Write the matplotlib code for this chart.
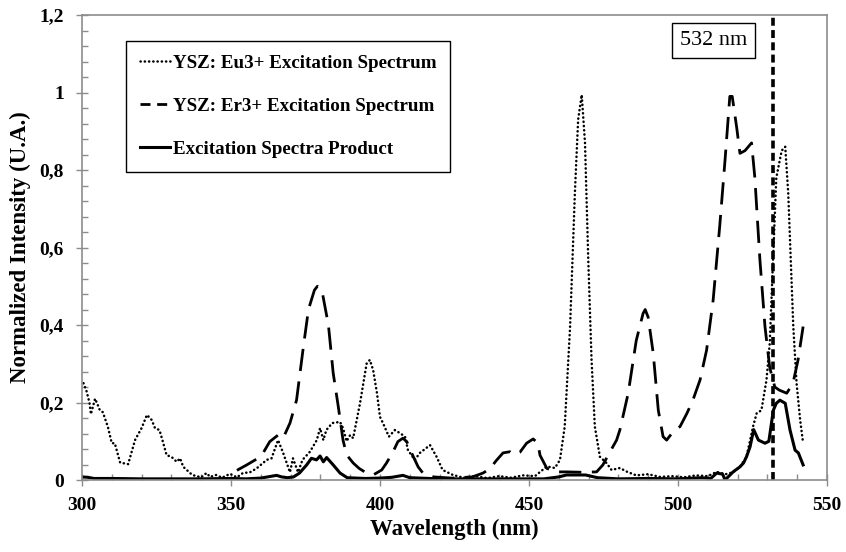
import numpy as np
import matplotlib
matplotlib.use("Agg")
import matplotlib.pyplot as plt
from matplotlib.lines import Line2D
from matplotlib.ticker import MultipleLocator, FuncFormatter

plt.rcParams["font.family"] = ["Liberation Serif", "DejaVu Serif"]

# Eu3+ excitation spectrum (dotted)
eu_wl = [300.5, 301.5, 302.5, 303, 304.4, 305.5, 306, 307, 308.7, 310, 311, 312.8,
         315.5, 317.8, 320, 321.8, 323.4, 324.5, 326, 327, 328.4, 330, 331.8, 332.9,
         334, 337, 340, 341.8, 343, 345, 347, 349.7, 352, 354, 356.4, 358.6, 362,
         363.6, 365.8, 367.5, 369.8, 370.8, 372.5, 374, 376.5, 378.8, 379.9, 381,
         382, 384, 386.6, 387.6, 388.8, 390, 391, 393.3, 395.5, 396.6, 397.7, 399,
         400, 401, 403, 405, 406.7, 408.4, 409.4, 411.7, 413.4, 416.8, 419, 421,
         424.5, 428, 432, 436, 440, 444, 448, 452, 456, 458.7, 460.4, 462, 463.8,
         465.4, 466.5, 467.7, 468.8, 469.9, 471, 472.1, 473.8, 476, 477.7, 480.5,
         483, 486, 490, 494, 498, 502, 506, 510, 513, 516, 518.5, 520.8, 523, 525.2,
         526.4, 528, 529.7, 530.8, 531.9, 533, 534.8, 536, 537, 538.7, 539.8, 541, 542]
eu_int = [0.25, 0.23, 0.20, 0.17, 0.21, 0.19, 0.18, 0.175, 0.137, 0.095, 0.095, 0.045,
          0.041, 0.103, 0.134, 0.168, 0.155, 0.134, 0.129, 0.103, 0.064, 0.06, 0.047, 0.056,
          0.034, 0.013, 0.007, 0.018, 0.008, 0.013, 0.006, 0.016, 0.007, 0.018, 0.02, 0.03, 0.052,
          0.056, 0.103, 0.07, 0.02, 0.056, 0.02, 0.052, 0.073, 0.103, 0.134, 0.103,
          0.129, 0.147, 0.15, 0.134, 0.10, 0.116, 0.108, 0.198, 0.30, 0.31, 0.284, 0.224,
          0.163, 0.147, 0.112, 0.129, 0.121, 0.112, 0.077, 0.052, 0.07, 0.09, 0.06, 0.026,
          0.013, 0.006, 0.01, 0.005, 0.01, 0.006, 0.012, 0.01, 0.035, 0.031, 0.052, 0.138, 0.396,
          0.74, 0.93, 0.994, 0.87, 0.568, 0.31, 0.138, 0.06, 0.044, 0.026, 0.031,
          0.021, 0.012, 0.015, 0.008, 0.01, 0.007, 0.012, 0.01, 0.021, 0.015, 0.02, 0.034, 0.06, 0.138,
          0.172, 0.18, 0.258, 0.353, 0.568, 0.78, 0.85, 0.86, 0.74, 0.396, 0.25, 0.155, 0.095]

# Er3+ excitation spectrum (dashed)
er_wl = [352, 355.3, 358.6, 360.8, 363, 365.8, 367.5, 369.8, 372, 374.3, 376, 378, 379,
         380.5, 382.7, 384.3, 386, 387.6, 388.8, 391, 393, 395.5, 397.7, 400.6, 402.2,
         404.4, 406, 407.7, 409, 410.6, 412.8, 414.4, 418, 424, 431, 434.6, 437, 439,
         441.3, 443.6, 444.6, 447, 449.2, 451.4, 453, 453.7, 456, 459.3, 462.6, 468,
         472.7, 474.8, 477, 479.4, 480.5, 483.3, 486, 488.3, 489, 490, 491.7, 493.4,
         495, 496.2, 498.4, 500.7, 503, 505, 507.4, 509.6, 511.8, 514, 515.8, 517.4,
         518.2, 519.7, 520.8, 522.5, 524.7, 525.8, 527.5, 529.2, 530.8, 532.5, 534,
         536.5, 538.6, 540.3, 542]
er_int = [0.025, 0.039, 0.054, 0.07, 0.099, 0.116, 0.108, 0.147, 0.206, 0.344, 0.44, 0.49, 0.50,
          0.49, 0.40, 0.276, 0.19, 0.103, 0.065, 0.044, 0.03, 0.018, 0.013, 0.026, 0.044,
          0.073, 0.099, 0.108, 0.099, 0.07, 0.034, 0.018, 0.008, 0.005, 0.008, 0.018, 0.03, 0.05,
          0.07, 0.073, 0.066, 0.072, 0.095, 0.106, 0.095, 0.064, 0.03, 0.021, 0.021, 0.02,
          0.021, 0.039, 0.07, 0.103, 0.129, 0.224, 0.36, 0.43, 0.44, 0.42, 0.327, 0.18,
          0.112, 0.103, 0.125, 0.138, 0.172, 0.206, 0.258, 0.335, 0.464, 0.654, 0.826, 0.99,
          0.99, 0.91, 0.843, 0.85, 0.87, 0.78, 0.568, 0.396, 0.29, 0.24, 0.232,
          0.224, 0.25, 0.31, 0.396]

# product of the two spectra (solid)
prod_wl = [300, 302, 304, 310, 320, 330, 340, 350, 355, 360, 365.3, 367, 369, 371, 373,
           375.4, 377, 378.7, 379.9, 381, 382.1, 384.3, 386.6, 389, 395, 400, 404, 407.7,
           410, 420, 440, 455, 460, 462.6, 469, 473, 480, 490, 500, 508, 511, 513, 515,
           515.8, 518.5, 520.8, 522, 523, 524.2, 525.4, 527, 529.2, 530.5, 532, 533, 534.2,
           536, 537.6, 539.3, 540.4, 542]
prod_int = [0.008, 0.007, 0.004, 0.004, 0.003, 0.003, 0.003, 0.004, 0.003, 0.005, 0.012, 0.008,
            0.006, 0.008, 0.018, 0.039, 0.056, 0.052, 0.062, 0.047, 0.058, 0.039, 0.018, 0.006,
            0.004, 0.005, 0.007, 0.012, 0.006, 0.003, 0.003, 0.003, 0.008, 0.013, 0.013, 0.006,
            0.003, 0.004, 0.003, 0.006, 0.004, 0.018, 0.015, 0.0, 0.021, 0.034, 0.044, 0.06,
            0.086, 0.13, 0.103, 0.095, 0.1, 0.18, 0.198, 0.206, 0.198, 0.129, 0.077, 0.07, 0.039]

laser_wl = 532
labels = ["YSZ: Eu3+ Excitation Spectrum", "YSZ: Er3+ Excitation Spectrum",
          "Excitation Spectra Product"]

fig = plt.figure(figsize=(8.46, 5.52), dpi=100)
ax = fig.add_axes([0.0969, 0.1304, 0.8806, 0.8424])

eu_line, = ax.plot(eu_wl, eu_int, color="black", lw=1.8, linestyle=(0, (0.1, 1.6)),
                   dash_capstyle="round")
ax.plot(er_wl, er_int, color="black", lw=2.0, linestyle=(0, (8, 3.8)))
prod_line, = ax.plot(prod_wl, prod_int, color="black", lw=2.2)
ax.axvline(laser_wl, color="black", lw=2.6, linestyle=(0, (2.2, 1.2)))

# shorter dashes for the legend key, as in the original
er_key = Line2D([], [], color="black", lw=2.0, linestyle=(0, (3.6, 2.4)))

ax.text(511.9, 1.133, "532 nm", fontsize=16, ha="center", va="center",
        bbox=dict(boxstyle="square,pad=0.36", fc="white", ec="black", lw=1))

ax.set_xlim(300, 550)
ax.set_ylim(0, 1.2)
ax.xaxis.set_major_locator(MultipleLocator(50))
ax.xaxis.set_minor_locator(MultipleLocator(10))
ax.yaxis.set_major_locator(MultipleLocator(0.2))
ax.yaxis.set_minor_locator(MultipleLocator(0.04))
ax.yaxis.set_major_formatter(FuncFormatter(lambda v, p: f"{v:g}".replace(".", ",")))

for s in ax.spines.values():
    s.set_color("#8c8c8c")
    s.set_linewidth(1.2)
ax.tick_params(which="major", direction="inout", length=8, width=1, color="#8c8c8c",
               labelsize=14)
ax.tick_params(which="minor", direction="in", length=4, width=1, color="#8c8c8c")
ax.tick_params(axis="x", which="major", pad=8)
ax.tick_params(axis="y", which="major", pad=9)
for lab in ax.get_xticklabels() + ax.get_yticklabels():
    lab.set_fontweight("bold")

ax.set_xlabel("Wavelength (nm)", fontsize=16.5, fontweight="bold", labelpad=4)
ax.set_ylabel("Normalized Intensity (U.A.)", fontsize=16.5, fontweight="bold", labelpad=6)

leg = ax.legend([eu_line, er_key, prod_line], labels,
                loc="upper left", bbox_to_anchor=(0.059, 0.944), borderaxespad=0,
                prop={"weight": "bold", "size": 13.7}, handlelength=1.6, handletextpad=0.15,
                labelspacing=1.35, borderpad=0.72, fancybox=False, framealpha=1)
leg.get_frame().set_edgecolor("black")
leg.get_frame().set_linewidth(1)

plt.savefig("out.png", dpi=100)
